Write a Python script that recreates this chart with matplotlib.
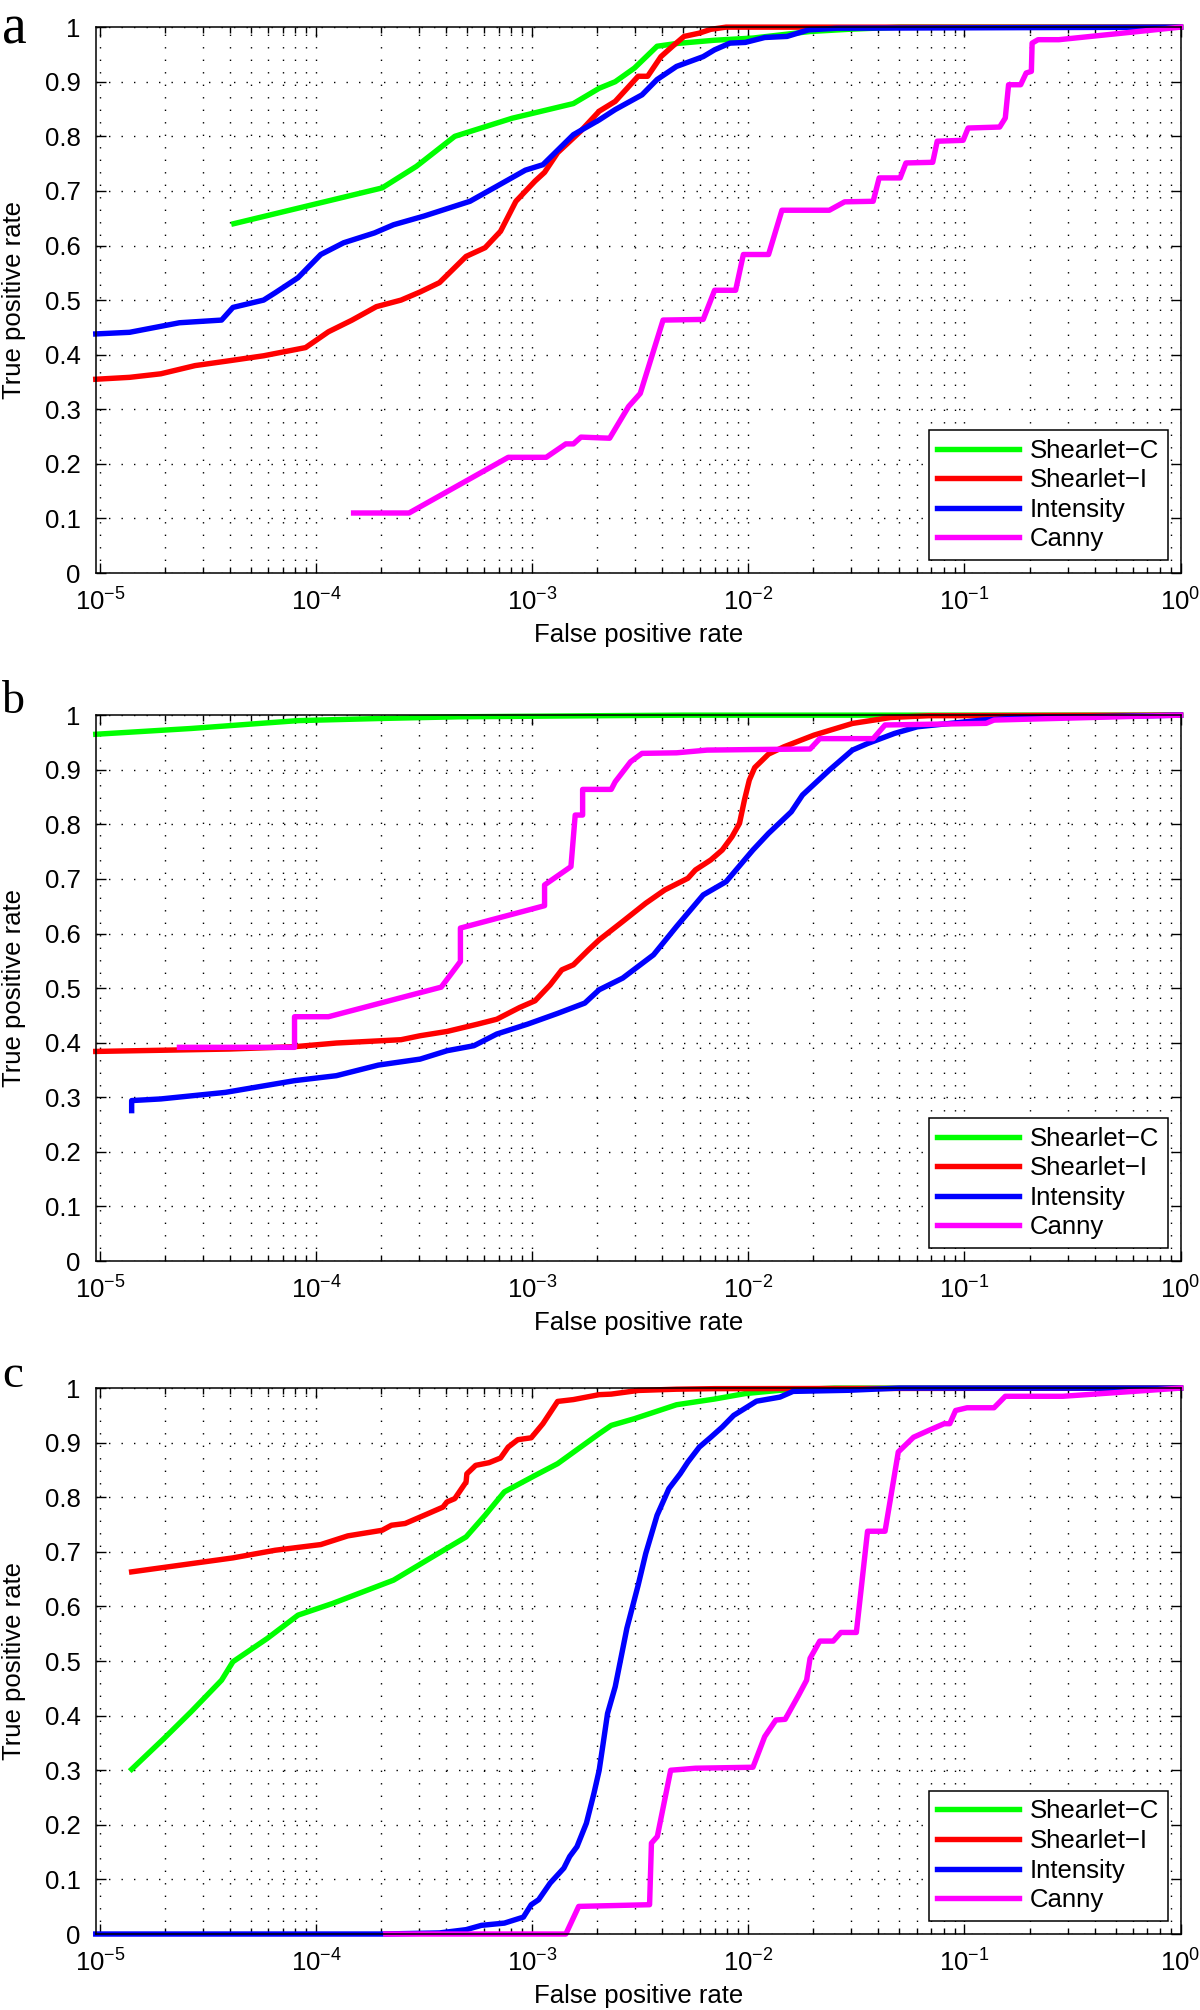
import matplotlib.pyplot as plt
import numpy as np
from matplotlib.ticker import LogLocator, FixedLocator, NullFormatter, LogFormatterSciNotation, FuncFormatter

plt.rcParams['font.family'] = ['Liberation Sans', 'DejaVu Sans']
plt.rcParams['mathtext.fontset'] = 'custom'
plt.rcParams['mathtext.rm'] = 'Liberation Sans'
plt.rcParams['mathtext.it'] = 'Liberation Sans:italic'
plt.rcParams['mathtext.bf'] = 'Liberation Sans:bold'

method_names = ['Shearlet−C', 'Shearlet−I', 'Intensity', 'Canny']
method_colors = ['#00ff00', '#ff0000', '#0000ff', '#ff00ff']

# ---- panel a ----
a_shc_fpr = [4.16e-5, 2.02e-4, 2.91e-4, 4.38e-4, 8.05e-4, 1.55e-3, 2.04e-3, 2.42e-3, 2.97e-3,
             3.78e-3, 4.65e-3, 6.98e-3, 1.05e-2, 1.93e-2, 2.90e-2, 5.0e-2, 1.0]
a_shc_tpr = [0.64, 0.7055, 0.745, 0.80, 0.833, 0.86, 0.888, 0.90, 0.925,
             0.965, 0.97, 0.976, 0.98, 0.992, 0.996, 1.0, 1.0]

a_shi_fpr = [9.55e-6, 1.37e-5, 1.91e-5, 2.75e-5, 3.98e-5, 5.71e-5, 8.93e-5, 1.14e-4, 1.46e-4,
             1.90e-4, 2.47e-4, 3.03e-4, 3.72e-4, 4.94e-4, 6.05e-4, 7.13e-4, 8.40e-4, 1.03e-3,
             1.14e-3, 1.31e-3, 1.67e-3, 2.04e-3, 2.42e-3, 3.09e-3, 3.42e-3, 3.94e-3, 4.46e-3,
             5.04e-3, 5.93e-3, 6.70e-3, 7.89e-3, 1.0]
a_shi_tpr = [0.355, 0.3585, 0.365, 0.38, 0.389, 0.398, 0.413, 0.442, 0.463,
             0.488, 0.50, 0.515, 0.532, 0.58, 0.596, 0.626, 0.681, 0.718,
             0.734, 0.770, 0.809, 0.846, 0.864, 0.91, 0.91, 0.946, 0.965,
             0.983, 0.989, 0.996, 1.0, 1.0]

a_int_fpr = [9.55e-6, 1.37e-5, 2.33e-5, 3.65e-5, 4.12e-5, 5.71e-5, 6.46e-5, 8.24e-5, 1.05e-4,
             1.34e-4, 1.86e-4, 2.28e-4, 3.16e-4, 5.15e-4, 6.85e-4, 9.29e-4, 1.12e-3, 1.55e-3,
             2.04e-3, 2.42e-3, 3.22e-3, 3.78e-3, 4.65e-3, 6.18e-3, 6.98e-3, 8.22e-3, 9.68e-3,
             1.19e-2, 1.51e-2, 1.90e-2, 2.57e-2, 1.0]
a_int_tpr = [0.438, 0.441, 0.4585, 0.4634, 0.4866, 0.50, 0.5134, 0.541, 0.5835,
             0.605, 0.623, 0.638, 0.654, 0.681, 0.7085, 0.738, 0.748, 0.803,
             0.83, 0.849, 0.876, 0.904, 0.928, 0.946, 0.9585, 0.9707, 0.972,
             0.981, 0.983, 0.995, 0.998, 1.0]

a_can_fpr = [1.49e-4, 2.69e-4, 7.74e-4, 1.16e-3, 1.43e-3, 1.55e-3, 1.68e-3, 2.28e-3, 2.79e-3,
             3.16e-3, 4.03e-3, 6.18e-3, 6.98e-3, 8.73e-3, 9.48e-3, 1.24e-2, 1.43e-2, 2.37e-2,
             2.79e-2, 3.78e-2, 4.03e-2, 5.04e-2, 5.36e-2, 7.13e-2, 7.48e-2, 9.86e-2, 0.104,
             0.1455, 0.1545, 0.160, 0.182, 0.193, 0.204, 0.2056, 0.219, 0.2735, 1.0]
a_can_tpr = [0.11, 0.11, 0.212, 0.212, 0.2366, 0.2366, 0.249, 0.247, 0.305,
             0.329, 0.4634, 0.4646, 0.518, 0.518, 0.5835, 0.5835, 0.6646, 0.6646,
             0.68, 0.681, 0.7238, 0.7238, 0.7512, 0.7524, 0.791, 0.7927, 0.8152,
             0.817, 0.8335, 0.8945, 0.8945, 0.916, 0.919, 0.9707, 0.977, 0.977, 1.0]

# ---- panel b ----
b_shc_fpr = [9.55e-6, 2.64e-5, 8.24e-5, 2.02e-4, 4.56e-4, 2.04e-3, 5.0e-3, 1.0]
b_shc_tpr = [0.965, 0.9756, 0.99, 0.994, 0.997, 0.999, 1.0, 1.0]

b_shi_fpr = [9.55e-6, 3.98e-5, 7.94e-5, 1.24e-4, 2.47e-4, 3.03e-4, 4.04e-4, 5.58e-4, 6.85e-4,
             8.75e-4, 1.03e-3, 1.21e-3, 1.37e-3, 1.55e-3, 1.82e-3, 2.04e-3, 2.62e-3, 3.35e-3,
             4.11e-3, 5.25e-3, 5.69e-3, 6.70e-3, 7.57e-3, 8.40e-3, 9.10e-3, 9.59e-3, 1.01e-2,
             1.07e-2, 1.24e-2, 1.46e-2, 2.01e-2, 3.03e-2, 4.55e-2, 6.84e-2, 1.0]
b_shi_tpr = [0.384, 0.3884, 0.3927, 0.3994, 0.4055, 0.4128, 0.4207, 0.434, 0.443,
             0.4646, 0.4768, 0.506, 0.5335, 0.5427, 0.570, 0.5884, 0.622, 0.6555,
             0.68, 0.7012, 0.7165, 0.7348, 0.753, 0.7774, 0.8018, 0.8445, 0.881,
             0.904, 0.9287, 0.942, 0.9634, 0.9848, 0.9957, 0.999, 1.0]

b_int_fpr = [1.40e-5, 1.40e-5, 1.91e-5, 3.80e-5, 7.94e-5, 1.24e-4, 1.94e-4, 3.03e-4, 4.04e-4,
             5.37e-4, 6.85e-4, 9.51e-4, 1.31e-3, 1.75e-3, 2.04e-3, 2.62e-3, 3.64e-3, 4.65e-3,
             6.18e-3, 7.89e-3, 1.05e-2, 1.24e-2, 1.58e-2, 1.78e-2, 2.37e-2, 3.03e-2, 3.56e-2,
             4.74e-2, 6.05e-2, 0.121, 0.182, 1.0]
b_int_tpr = [0.2756, 0.294, 0.297, 0.309, 0.3305, 0.3396, 0.359, 0.37, 0.3854,
             0.3945, 0.4159, 0.434, 0.4537, 0.4726, 0.497, 0.5183, 0.561, 0.6128,
             0.6707, 0.695, 0.753, 0.7835, 0.823, 0.8537, 0.8994, 0.936, 0.948,
             0.9665, 0.9787, 0.991, 0.995, 1.0]

b_can_fpr = [2.33e-5, 7.94e-5, 7.94e-5, 1.14e-4, 3.79e-4, 4.65e-4, 4.65e-4, 1.14e-3, 1.14e-3,
             1.51e-3, 1.58e-3, 1.71e-3, 1.71e-3, 2.32e-3, 2.42e-3, 2.85e-3, 3.22e-3, 4.65e-3,
             6.44e-3, 1.05e-2, 1.93e-2, 2.14e-2, 3.78e-2, 4.29e-2, 0.126, 0.137, 1.0]
b_can_tpr = [0.3915, 0.3915, 0.4476, 0.4476, 0.5018, 0.5488, 0.61, 0.651, 0.689,
             0.7226, 0.817, 0.817, 0.864, 0.864, 0.878, 0.9146, 0.93, 0.931,
             0.936, 0.937, 0.938, 0.957, 0.957, 0.982, 0.985, 0.991, 1.0]

# ---- panel c ----
c_shc_fpr = [1.40e-5, 1.98e-5, 2.64e-5, 3.65e-5, 4.12e-5, 5.94e-5, 8.24e-5, 1.19e-4, 2.28e-4,
             3.56e-4, 4.94e-4, 6.05e-4, 7.43e-4, 1.03e-3, 1.31e-3, 2.04e-3, 2.32e-3, 2.97e-3,
             4.65e-3, 6.98e-3, 9.68e-3, 1.40e-2, 2.5e-2, 1.0]
c_shc_tpr = [0.3018, 0.3585, 0.4073, 0.465, 0.4988, 0.5415, 0.5841, 0.6055, 0.6482,
             0.694, 0.7274, 0.767, 0.81, 0.84, 0.8616, 0.9165, 0.9317, 0.944,
             0.9695, 0.98, 0.99, 0.996, 1.0, 1.0]

c_shi_fpr = [1.40e-5, 4.12e-5, 6.46e-5, 1.05e-4, 1.40e-4, 2.02e-4, 2.23e-4, 2.58e-4, 3.29e-4,
             3.86e-4, 4.03e-4, 4.38e-4, 4.94e-4, 4.98e-4, 5.47e-4, 6.31e-4, 7.13e-4, 7.74e-4,
             8.57e-4, 9.89e-4, 1.12e-3, 1.31e-3, 1.55e-3, 2.04e-3, 2.32e-3, 3.09e-3, 4.65e-3,
             6.98e-3, 1.0]
c_shi_tpr = [0.6634, 0.689, 0.703, 0.7134, 0.7293, 0.7396, 0.7488, 0.752, 0.77,
             0.782, 0.7915, 0.7976, 0.828, 0.843, 0.8585, 0.8634, 0.872, 0.892,
             0.9055, 0.909, 0.9348, 0.9756, 0.979, 0.988, 0.989, 0.9957, 0.998,
             0.999, 1.0]

c_int_fpr = [9.55e-6, 2.02e-4, 3.72e-4, 4.94e-4, 5.82e-4, 7.43e-4, 9.10e-4, 9.89e-4, 1.07e-3,
             1.21e-3, 1.40e-3, 1.49e-3, 1.61e-3, 1.78e-3, 1.93e-3, 2.04e-3, 2.14e-3, 2.23e-3,
             2.42e-3, 2.74e-3, 3.09e-3, 3.35e-3, 3.78e-3, 4.29e-3, 4.84e-3, 5.25e-3, 5.93e-3,
             6.70e-3, 7.57e-3, 8.55e-3, 1.09e-2, 1.40e-2, 1.61e-2, 2.90e-2, 5.0e-2, 1.0]
c_int_tpr = [0.0, 0.0, 0.002, 0.008, 0.0159, 0.02, 0.031, 0.0537, 0.0628,
             0.0933, 0.1207, 0.142, 0.16, 0.203, 0.258, 0.30, 0.3555, 0.404,
             0.453, 0.56, 0.639, 0.697, 0.767, 0.816, 0.8433, 0.8646, 0.892,
             0.91, 0.9287, 0.95, 0.976, 0.9835, 0.994, 0.996, 1.0, 1.0]

c_can_fpr = [2.1e-4, 1.43e-3, 1.64e-3, 3.49e-3, 3.56e-3, 3.79e-3, 4.37e-3, 5.69e-3, 1.05e-2,
             1.19e-2, 1.34e-2, 1.48e-2, 1.71e-2, 1.86e-2, 1.93e-2, 2.14e-2, 2.47e-2, 2.68e-2,
             3.16e-2, 3.56e-2, 4.29e-2, 4.94e-2, 5.81e-2, 6.84e-2, 8.05e-2, 8.55e-2, 9.10e-2,
             0.1028, 0.137, 0.1545, 0.285, 1.0]
c_can_tpr = [0.0, 0.0, 0.0506, 0.0537, 0.1665, 0.1787, 0.30, 0.3037, 0.3055,
             0.3616, 0.392, 0.3933, 0.4378, 0.465, 0.505, 0.5366, 0.5366, 0.5524,
             0.5524, 0.7378, 0.7378, 0.883, 0.91, 0.9226, 0.9348, 0.9348, 0.959,
             0.964, 0.964, 0.985, 0.985, 1.0]

panel_letters = ['a', 'b', 'c']
panel_curves = [
    [(a_shc_fpr, a_shc_tpr), (a_shi_fpr, a_shi_tpr), (a_int_fpr, a_int_tpr), (a_can_fpr, a_can_tpr)],
    [(b_shc_fpr, b_shc_tpr), (b_shi_fpr, b_shi_tpr), (b_int_fpr, b_int_tpr), (b_can_fpr, b_can_tpr)],
    [(c_shc_fpr, c_shc_tpr), (c_shi_fpr, c_shi_tpr), (c_int_fpr, c_int_tpr), (c_can_fpr, c_can_tpr)],
]
y_ticks = [0, 0.1, 0.2, 0.3, 0.4, 0.5, 0.6, 0.7, 0.8, 0.9, 1]
x_ticks = [1e-5, 1e-4, 1e-3, 1e-2, 1e-1, 1]

fig = plt.figure(figsize=(12, 20.1), dpi=100)
bottoms = [0.7149, 0.3726, 0.0378]
letter_y = [0.9786, 0.6453, 0.3100]
letter_size = [40, 33, 34]
dots = (0, (1, 8))

for k in range(3):
    ax = fig.add_axes([0.0798, bottoms[k], 0.904, 0.2716])
    for (fpr, tpr), name, col in zip(panel_curves[k], method_names, method_colors):
        ax.plot(fpr, tpr, color=col, lw=3.9, label=name, clip_on=False)
    ax.set_xscale('log')
    ax.set_xlim(9.55e-6, 1)
    ax.set_ylim(0, 1)
    ax.xaxis.set_major_locator(FixedLocator(x_ticks))
    ax.xaxis.set_major_formatter(LogFormatterSciNotation())
    ax.xaxis.set_minor_locator(LogLocator(base=10, subs=np.arange(2, 10), numticks=20))
    ax.xaxis.set_minor_formatter(NullFormatter())
    ax.yaxis.set_major_locator(FixedLocator(y_ticks))
    ax.yaxis.set_major_formatter(FuncFormatter(lambda v, p: '%g' % v))
    ax.tick_params(which='both', direction='in', top=True, right=True, labelsize=18.5, width=1)
    ax.tick_params(which='major', length=7)
    ax.tick_params(which='minor', length=4)
    ax.tick_params(axis='x', pad=11)
    ax.tick_params(axis='y', pad=11)
    ax.grid(True, which='major', axis='both', linestyle=dots, linewidth=1.0, color='k')
    ax.grid(True, which='minor', axis='x', linestyle=dots, linewidth=1.0, color='k')
    for s in ax.spines.values():
        s.set_linewidth(1.1)
    ax.set_xlabel('False positive rate', fontsize=18.5)
    ax.set_ylabel('True positive rate', fontsize=18.5)
    ax.xaxis.set_label_coords(0.5, -0.092)
    ax.yaxis.set_label_coords(-0.064, 0.5)
    leg = ax.legend(loc='lower right', bbox_to_anchor=(0.988, 0.024), fontsize=18.5, fancybox=False,
                    edgecolor='k', framealpha=1, handlelength=3.2, handletextpad=0.4,
                    labelspacing=0.22, borderpad=0.33, borderaxespad=0)
    leg.get_frame().set_linewidth(1.1)
    fig.text(0.002, letter_y[k], panel_letters[k], family=['Liberation Serif', 'DejaVu Serif'],
             fontsize=letter_size[k], ha='left', va='baseline')

fig.savefig('out.png', dpi=100)
